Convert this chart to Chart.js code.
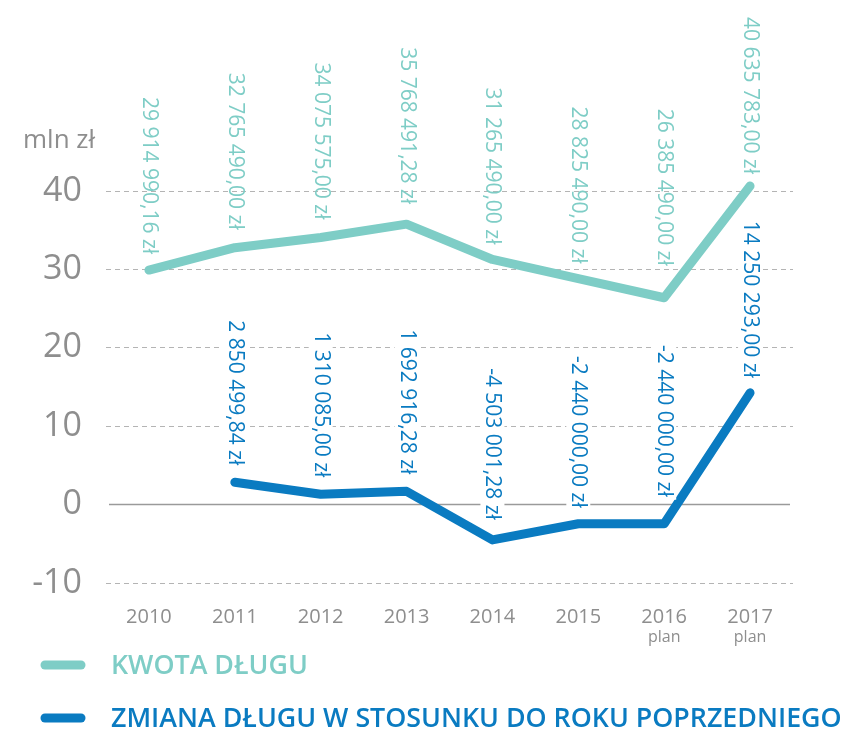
<!DOCTYPE html>
<html>
<head>
<meta charset="utf-8">
<script src="https://cdn.jsdelivr.net/npm/chart.js@4"></script>
<style>
  html, body { margin: 0; padding: 0; background: #fff; }
  #wrap { width: 843px; height: 731px; }
</style>
</head>
<body>
<div id="wrap"><canvas id="debt-chart" width="843" height="731"></canvas></div>
<script>
// chart data (amounts in zł)
const years = ['2010', '2011', '2012', '2013', '2014', '2015', '2016', '2017'];
const yearNotes = ['', '', '', '', '', '', 'plan', 'plan'];
const debtAmount = [29914990.16, 32765490.00, 34075575.00, 35768491.28, 31265490.00, 28825490.00, 26385490.00, 40635783.00];
const debtChange = [null, 2850499.84, 1310085.00, 1692916.28, -4503001.28, -2440000.00, -2440000.00, 14250293.00];
const yTicks = [-10, 0, 10, 20, 30, 40];
const seriesNames = ['KWOTA DŁUGU', 'ZMIANA DŁUGU W STOSUNKU DO ROKU POPRZEDNIEGO'];

const TEAL = '#7ecdc6';
const BLUE = '#0a7bc1';
const GREY = '#8e8e8e';
const FONT = '"Open Sans", "DejaVu Sans", sans-serif';

// gap between end of value label and the point (px)
const labelGap = [
  [16, 18, 18, 20, 15, 15, 32, 12],
  [17, 17, 17, 17, 20, 16, 27, 15]
];

// "29 914 990,16 zł"
function formatZl(v) {
  const neg = v < 0;
  const parts = Math.abs(v).toFixed(2).split('.');
  const intPart = parts[0].replace(/\B(?=(\d{3})+(?!\d))/g, ' ');
  return (neg ? '-' : '') + intPart + ',' + parts[1] + ' zł';
}

const toMln = arr => arr.map(v => v === null ? null : v / 1e6);

// solid zero line, value labels, "plan" notes, legend, unit
const decorPlugin = {
  id: 'decor',
  beforeDatasetsDraw(chart) {
    const { ctx, chartArea, scales } = chart;
    const y0 = scales.y.getPixelForValue(0);
    ctx.save();
    ctx.strokeStyle = '#9a9a9a';
    ctx.lineWidth = 1.5;
    ctx.beginPath();
    ctx.moveTo(chartArea.left + 3, y0);
    ctx.lineTo(chartArea.right - 3, y0);
    ctx.stroke();
    ctx.restore();
  },
  afterDatasetsDraw(chart) {
    const { ctx, scales } = chart;
    const xs = scales.x;

    // value labels, rotated, reading top to bottom
    chart.data.datasets.forEach((ds, di) => {
      const raw = di === 0 ? debtAmount : debtChange;
      const meta = chart.getDatasetMeta(di);
      meta.data.forEach((pt, i) => {
        if (raw[i] === null) return;
        const txt = formatZl(raw[i]);
        ctx.save();
        ctx.font = '21px ' + FONT;
        ctx.translate(pt.x, pt.y - labelGap[di][i]);
        ctx.rotate(Math.PI / 2);
        ctx.textAlign = 'right';
        ctx.textBaseline = 'middle';
        if (di === 1) {
          const w = ctx.measureText(txt).width;
          ctx.fillStyle = '#fff';
          ctx.fillRect(-w - 3, -12, w + 6, 24);
        }
        ctx.fillStyle = ds.borderColor;
        ctx.fillText(txt, 0, 0);
        ctx.restore();
      });
    });

    // "plan" under years
    ctx.save();
    ctx.font = '16px ' + FONT;
    ctx.fillStyle = GREY;
    ctx.textAlign = 'center';
    ctx.textBaseline = 'middle';
    yearNotes.forEach((n, i) => {
      if (n) ctx.fillText(n, xs.getPixelForValue(i), 637);
    });
    ctx.restore();

    // unit
    ctx.save();
    ctx.font = '26px ' + FONT;
    ctx.fillStyle = GREY;
    ctx.textAlign = 'left';
    ctx.textBaseline = 'alphabetic';
    ctx.fillText('mln zł', 23, 148);
    ctx.restore();

    // legend
    const rows = [665, 718];
    chart.data.datasets.forEach((ds, di) => {
      const y = rows[di];
      ctx.save();
      ctx.strokeStyle = ds.borderColor;
      ctx.lineWidth = 9;
      ctx.lineCap = 'round';
      ctx.beginPath();
      ctx.moveTo(45, y);
      ctx.lineTo(81, y);
      ctx.stroke();
      ctx.font = '600 26.8px ' + FONT;
      ctx.fillStyle = ds.borderColor;
      ctx.textAlign = 'left';
      ctx.textBaseline = 'middle';
      ctx.fillText(ds.label, 111, y + 1);
      ctx.restore();
    });
  }
};

const ctx = document.getElementById('debt-chart').getContext('2d');
new Chart(ctx, {
  type: 'line',
  data: {
    labels: years,
    datasets: [
      {
        label: seriesNames[0],
        data: toMln(debtAmount),
        borderColor: TEAL,
        borderWidth: 9,
        borderCapStyle: 'round',
        borderJoinStyle: 'round',
        pointRadius: 0,
        tension: 0,
        clip: false
      },
      {
        label: seriesNames[1],
        data: toMln(debtChange),
        borderColor: BLUE,
        borderWidth: 9,
        borderCapStyle: 'round',
        borderJoinStyle: 'round',
        pointRadius: 0,
        tension: 0,
        clip: false
      }
    ]
  },
  options: {
    responsive: false,
    animation: false,
    layout: { padding: { top: 191, left: 0, right: 50, bottom: 0 } },
    plugins: {
      legend: { display: false },
      tooltip: { enabled: false }
    },
    scales: {
      x: {
        offset: true,
        grid: { display: false },
        border: { display: false },
        ticks: {
          color: GREY,
          font: { family: FONT, size: 20 },
          padding: 14,
          maxRotation: 0
        },
        afterFit(scale) { scale.height = 148; }
      },
      y: {
        min: -10,
        max: 40,
        afterBuildTicks(scale) { scale.ticks = yTicks.map(v => ({ value: v })); },
        grid: {
          drawTicks: false,
          color: c => (c.tick && c.tick.value === 0) ? 'rgba(0,0,0,0)' : '#b4b4b4',
          lineWidth: 1
        },
        border: { display: false, dash: [5, 4] },
        ticks: {
          color: GREY,
          font: { family: FONT, size: 34 },
          padding: 24
        },
        afterFit(scale) { scale.width = 106; }
      }
    }
  },
  plugins: [decorPlugin]
});
</script>
</body>
</html>
